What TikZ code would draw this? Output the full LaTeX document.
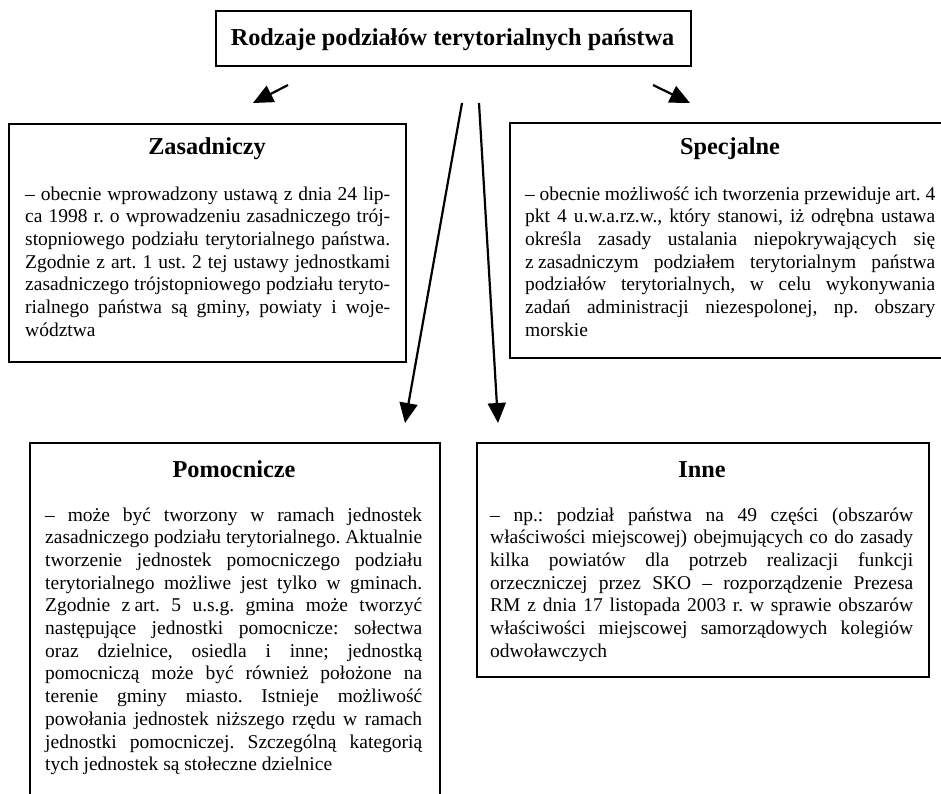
\documentclass[tikz,border=0pt]{standalone}
\usepackage{fontspec}
\setmainfont{Liberation Serif}
\usetikzlibrary{arrows.meta}

% body text: a block of fixed width, first baseline on the node's base
\newcommand{\textblock}[2]{\vtop{\hsize=#1\relax\frenchspacing\fontsize{19.5pt}{22.7pt}\selectfont #2}}
% a justified line and a closing (ragged) line
\newcommand{\jl}[1]{\hbox to \hsize{#1}}
\newcommand{\raggedlast}[1]{\hbox{#1}}
\newcommand{\nsp}{\hspace{0.22em}}

\tikzset{
  frame/.style={draw=black, line width=1.9pt, fill=none, inner sep=0pt, anchor=north west},
  heading/.style={font=\fontsize{24.3pt}{28pt}\selectfont\bfseries, anchor=base, inner sep=0pt},
  body/.style={anchor=base west, inner sep=0pt},
  link/.style={line width=2.2pt, -{Triangle[length=20pt, width=18pt]}}
}

\begin{document}
\begin{tikzpicture}[x=1pt, y=-1pt]
\useasboundingbox (0,0) rectangle (941,793);
\clip (0,0) rectangle (941,793);

% ---- title ----
\node[frame, minimum width=475pt, minimum height=55pt] (top) at (215,10) {};
\node[heading] (toptext) at (452.5,45.5) {Rodzaje podziałów terytorialnych państwa};

% ---- Zasadniczy ----
\node[frame, minimum width=397pt, minimum height=238pt] (zas) at (8,123) {};
\node[heading] (zashead) at (207,154) {Zasadniczy};
\node[body] (zasbody) at (25,200) {\textblock{365pt}{%
\jl{– obecnie wprowadzony ustawą z dnia 24 lip-}
\jl{ca 1998 r. o wprowadzeniu zasadniczego trój-}
\jl{stopniowego podziału terytorialnego państwa.}
\jl{Zgodnie z art. 1 ust. 2 tej ustawy jednostkami}
\jl{zasadniczego trójstopniowego podziału teryto-}
\jl{rialnego państwa są gminy, powiaty i woje-}
\raggedlast{wództwa}}};

% ---- Specjalne ----
\node[frame, minimum width=442pt, minimum height=235pt] (spec) at (509,122) {};
\node[heading] (spechead) at (730,154) {Specjalne};
\node[body] (specbody) at (525,200) {\textblock{410pt}{%
\jl{– obecnie możliwość ich tworzenia przewiduje art. 4}
\jl{pkt 4 u.w.a.rz.w., który stanowi, iż odrębna ustawa}
\jl{określa zasady ustalania niepokrywających się}
\jl{z\nsp zasadniczym podziałem terytorialnym państwa}
\jl{podziałów terytorialnych, w celu wykonywania}
\jl{zadań administracji niezespolonej, np. obszary}
\raggedlast{morskie}}};

% ---- Pomocnicze ----
\node[frame, minimum width=410pt, minimum height=400pt] (pom) at (29,442) {};
\node[heading] (pomhead) at (234,477) {Pomocnicze};
\node[body] (pombody) at (45,521) {\textblock{377pt}{%
\jl{– może być tworzony w ramach jednostek}
\jl{zasadniczego podziału terytorialnego. Aktualnie}
\jl{tworzenie jednostek pomocniczego podziału}
\jl{terytorialnego możliwe jest tylko w gminach.}
\jl{Zgodnie z\nsp art. 5 u.s.g. gmina może tworzyć}
\jl{następujące jednostki pomocnicze: sołectwa}
\jl{oraz dzielnice, osiedla i inne; jednostką}
\jl{pomocniczą może być również położone na}
\jl{terenie gminy miasto. Istnieje możliwość}
\jl{powołania jednostek niższego rzędu w ramach}
\jl{jednostki pomocniczej. Szczególną kategorią}
\raggedlast{tych jednostek są stołeczne dzielnice}}};

% ---- Inne ----
\node[frame, minimum width=452pt, minimum height=234pt] (inne) at (476,442) {};
\node[heading] (innehead) at (702,477) {Inne};
\node[body] (innebody) at (490,521) {\textblock{423pt}{%
\jl{– np.: podział państwa na 49 części (obszarów}
\jl{właściwości miejscowej) obejmujących co do zasady}
\jl{kilka powiatów dla potrzeb realizacji funkcji}
\jl{orzeczniczej przez SKO – rozporządzenie Prezesa}
\jl{RM z dnia 17 listopada 2003 r. w sprawie obszarów}
\jl{właściwości miejscowej samorządowych kolegiów}
\raggedlast{odwoławczych}}};

% ---- connectors ----
\coordinate (s1) at (288,85);  \coordinate (e1) at (253,103);
\coordinate (s2) at (653,85);  \coordinate (e2) at (690,103);
\coordinate (s3) at (462,103); \coordinate (e3) at (405,423);
\coordinate (s4) at (479,103); \coordinate (e4) at (498,423);
\draw[link] (s1) -- (e1);
\draw[link] (s2) -- (e2);
\draw[link] (s3) -- (e3);
\draw[link] (s4) -- (e4);
\end{tikzpicture}
\end{document}
